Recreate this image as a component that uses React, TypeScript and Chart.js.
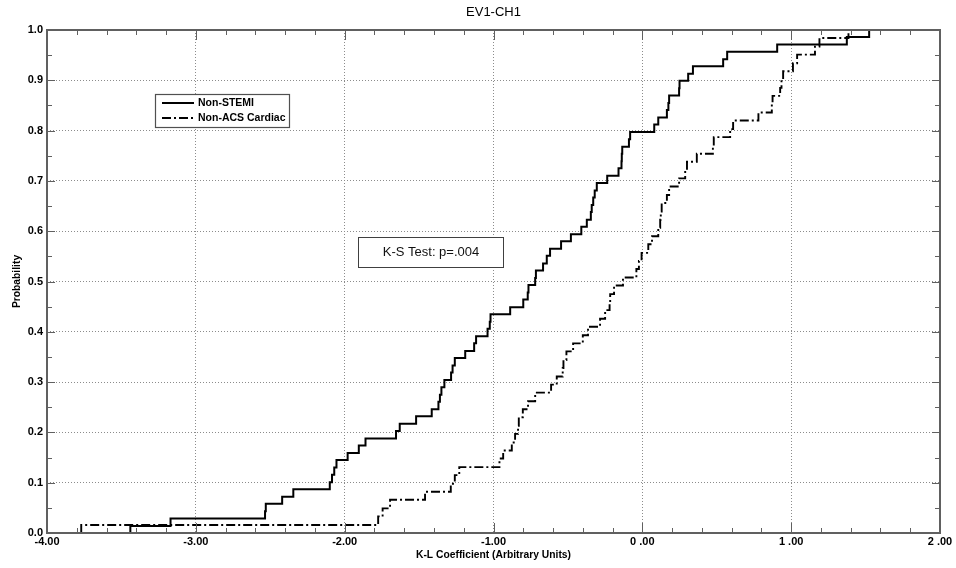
import React, { useEffect, useRef } from 'react';
import { Chart, registerables } from 'chart.js';

Chart.register(...registerables);

const chartTitle = 'EV1-CH1';
const xAxisTitle = 'K-L Coefficient (Arbitrary Units)';
const yAxisTitle = 'Probability';
const seriesNames = ['Non-STEMI', 'Non-ACS Cardiac'];
const ksText = 'K-S Test: p=.004';

const xTickValues = [-4, -3, -2, -1, 0, 1, 2];
const xTickLabels = ['-4.00', '-3.00', '-2.00', '-1.00', '0 .00', '1 .00', '2 .00'];
const yTickValues = [0, 0.1, 0.2, 0.3, 0.4, 0.5, 0.6, 0.7, 0.8, 0.9, 1.0];
const yTickLabels = ['0.0', '0.1', '0.2', '0.3', '0.4', '0.5', '0.6', '0.7', '0.8', '0.9', '1.0'];

const nonStemiX = [
  -3.44, -3.44, -3.17, -2.535, -2.53, -2.42, -2.345, -2.10, -2.085, -2.07,
  -2.055, -1.98, -1.905, -1.86, -1.655, -1.63, -1.52, -1.415, -1.37, -1.36,
  -1.35, -1.33, -1.285, -1.275, -1.26, -1.19, -1.13, -1.117, -1.04, -1.025,
  -1.02, -0.888, -0.80, -0.77, -0.765, -0.72, -0.715, -0.667, -0.642, -0.62,
  -0.546, -0.48, -0.41, -0.373, -0.346, -0.34, -0.33, -0.32, -0.306, -0.236,
  -0.16, -0.14, -0.138, -0.135, -0.09, -0.082, 0.08, 0.107, 0.165, 0.175,
  0.18, 0.247, 0.25, 0.308, 0.34, 0.543, 0.57, 0.906, 1.374, 1.524,
];
const nonStemiY = [
  0, 0.014, 0.029, 0.043, 0.058, 0.072, 0.087, 0.101, 0.116, 0.130,
  0.145, 0.159, 0.174, 0.188, 0.203, 0.217, 0.232, 0.246, 0.261, 0.275,
  0.290, 0.304, 0.319, 0.333, 0.348, 0.362, 0.377, 0.391, 0.406, 0.420,
  0.435, 0.449, 0.464, 0.478, 0.493, 0.507, 0.522, 0.536, 0.551, 0.565,
  0.580, 0.594, 0.609, 0.623, 0.638, 0.652, 0.667, 0.681, 0.696, 0.710,
  0.725, 0.739, 0.754, 0.768, 0.783, 0.797, 0.812, 0.826, 0.841, 0.855,
  0.870, 0.884, 0.899, 0.913, 0.928, 0.942, 0.957, 0.971, 0.986, 1.000,
];

const nonAcsX = [
  -3.77, -3.77, -1.775, -1.745, -1.695, -1.46, -1.287, -1.26, -1.23, -0.96,
  -0.935, -0.877, -0.855, -0.835, -0.83, -0.803, -0.768, -0.72, -0.613, -0.575,
  -0.535, -0.53, -0.51, -0.465, -0.40, -0.365, -0.284, -0.25, -0.22, -0.216,
  -0.19, -0.13, -0.04, -0.023, -0.005, 0.04, 0.065, 0.107, 0.12, 0.124,
  0.13, 0.165, 0.18, 0.247, 0.288, 0.30, 0.366, 0.474, 0.48, 0.59,
  0.61, 0.78, 0.87, 0.875, 0.926, 0.935, 0.946, 1.012, 1.04, 1.16,
  1.19, 1.385,
];
const nonAcsY = [
  0, 0.016, 0.033, 0.049, 0.066, 0.082, 0.098, 0.115, 0.131, 0.148,
  0.164, 0.180, 0.197, 0.213, 0.230, 0.246, 0.262, 0.279, 0.295, 0.311,
  0.328, 0.344, 0.361, 0.377, 0.393, 0.410, 0.426, 0.443, 0.459, 0.475,
  0.492, 0.508, 0.525, 0.541, 0.557, 0.574, 0.590, 0.607, 0.623, 0.639,
  0.656, 0.672, 0.689, 0.705, 0.721, 0.738, 0.754, 0.770, 0.787, 0.803,
  0.820, 0.836, 0.852, 0.869, 0.885, 0.902, 0.918, 0.934, 0.951, 0.967,
  0.984, 1.000,
];

const FONT = "'Liberation Sans', Arial, sans-serif";
const DASH_DOT = [9, 3, 2, 3];
const FRAME = '#606060';

const overlayPlugin = {
  id: 'overlay',
  afterDraw(chart: any) {
    const ctx = chart.ctx as CanvasRenderingContext2D;
    const xs = chart.scales.x;
    const ys = chart.scales.y;
    const { left, right, top, bottom } = chart.chartArea;
    ctx.save();

    // title centred over the plot area
    ctx.fillStyle = '#000';
    ctx.font = `13px ${FONT}`;
    ctx.textAlign = 'center';
    ctx.textBaseline = 'middle';
    ctx.fillText(chartTitle, (left + right) / 2, 12.5);

    // inward tick marks
    ctx.strokeStyle = FRAME;
    ctx.lineWidth = 1;
    ctx.setLineDash([]);
    ctx.beginPath();
    for (let k = 0; k <= 30; k++) {
      const v = xs.min + k * 0.2;
      const px = Math.round(xs.getPixelForValue(v)) + 0.5;
      const len = k % 5 === 0 ? 10 : 5;
      ctx.moveTo(px, bottom);
      ctx.lineTo(px, bottom - len);
      ctx.moveTo(px, top);
      ctx.lineTo(px, top + len);
    }
    for (let k = 0; k <= 20; k++) {
      const v = ys.min + k * 0.05;
      const py = Math.round(ys.getPixelForValue(v)) + 0.5;
      const len = k % 2 === 0 ? 8 : 5;
      ctx.moveTo(left, py);
      ctx.lineTo(left + len, py);
      ctx.moveTo(right, py);
      ctx.lineTo(right - len, py);
    }
    ctx.stroke();

    // frame
    ctx.lineWidth = 2;
    ctx.strokeRect(left, top, right - left, bottom - top);

    // legend box
    const lx = 155.5, ly = 94.5, lw = 134, lh = 33;
    ctx.fillStyle = '#fff';
    ctx.fillRect(lx, ly, lw, lh);
    ctx.lineWidth = 1.2;
    ctx.strokeStyle = '#505050';
    ctx.strokeRect(lx, ly, lw, lh);
    const rows = [103, 118];
    chart.data.datasets.forEach((ds: any, i: number) => {
      ctx.strokeStyle = '#000';
      ctx.lineWidth = 2;
      ctx.setLineDash(ds.borderDash || []);
      ctx.beginPath();
      ctx.moveTo(162, rows[i]);
      ctx.lineTo(194, rows[i]);
      ctx.stroke();
      ctx.setLineDash([]);
      ctx.fillStyle = '#000';
      ctx.font = `bold 10.5px ${FONT}`;
      ctx.textAlign = 'left';
      ctx.textBaseline = 'middle';
      ctx.fillText(ds.label, 198, rows[i] + 0.5);
    });

    // K-S box
    const kx = 358.5, ky = 237.5, kw = 145, kh = 30;
    ctx.fillStyle = '#fff';
    ctx.fillRect(kx, ky, kw, kh);
    ctx.strokeStyle = '#404040';
    ctx.lineWidth = 1;
    ctx.strokeRect(kx, ky, kw, kh);
    ctx.fillStyle = '#111';
    ctx.font = `13px ${FONT}`;
    ctx.textAlign = 'center';
    ctx.textBaseline = 'middle';
    ctx.fillText(ksText, kx + kw / 2, ky + kh / 2);

    ctx.restore();
  },
};

export default function App() {
  const ref = useRef<HTMLCanvasElement | null>(null);
  useEffect(() => {
    if (!ref.current) return;
    const chart = new Chart(ref.current, {
      type: 'line',
      data: {
        datasets: [
          {
            label: seriesNames[0],
            data: nonStemiX.map((x, i) => ({ x, y: nonStemiY[i] })),
            stepped: 'before',
            borderColor: '#000',
            borderWidth: 2,
            pointRadius: 0,
            fill: false,
          },
          {
            label: seriesNames[1],
            data: nonAcsX.map((x, i) => ({ x, y: nonAcsY[i] })),
            stepped: 'before',
            borderColor: '#000',
            borderWidth: 1.9,
            borderDash: DASH_DOT,
            pointRadius: 0,
            fill: false,
          },
        ],
      },
      options: {
        animation: false,
        responsive: false,
        devicePixelRatio: 1,
        layout: { padding: { left: 0, right: 16, top: 30, bottom: 0 } },
        plugins: {
          legend: { display: false },
          tooltip: { enabled: false },
          title: { display: false },
        },
        scales: {
          x: {
            type: 'linear',
            min: -4,
            max: 2,
            afterBuildTicks: (s: any) => {
              s.ticks = xTickValues.map((v) => ({ value: v }));
            },
            afterFit: (s: any) => {
              s.height = 35;
            },
            ticks: {
              callback: (_v: any, i: number) => xTickLabels[i],
              color: '#000',
              font: { family: FONT, size: 11, weight: 'bold' },
              padding: 2,
              maxRotation: 0,
              autoSkip: false,
            },
            grid: { color: '#8c8c8c', lineWidth: 1, drawTicks: false },
            border: { display: false, dash: [1, 2] },
            title: {
              display: true,
              text: xAxisTitle,
              color: '#000',
              font: { family: FONT, size: 10.3, weight: 'bold', lineHeight: 1.2 },
              padding: { top: 0, bottom: 7 },
            },
          },
          y: {
            type: 'linear',
            min: 0,
            max: 1,
            afterBuildTicks: (s: any) => {
              s.ticks = yTickValues.map((v) => ({ value: v }));
            },
            afterFit: (s: any) => {
              s.width = 47;
            },
            ticks: {
              callback: (_v: any, i: number) => yTickLabels[i],
              color: '#000',
              font: { family: FONT, size: 11, weight: 'bold' },
              padding: 4,
              autoSkip: false,
            },
            grid: { color: '#8c8c8c', lineWidth: 1, drawTicks: false },
            border: { display: false, dash: [1, 2] },
            title: {
              display: true,
              text: yAxisTitle,
              color: '#000',
              font: { family: FONT, size: 10.3, weight: 'bold', lineHeight: 1.2 },
              padding: { top: 11, bottom: 0 },
            },
          },
        },
      },
      plugins: [overlayPlugin],
    });
    return () => chart.destroy();
  }, []);

  return (
    <div style={{ position: 'fixed', left: 0, top: 0, width: 956, height: 568, background: '#fff' }}>
      <canvas ref={ref} width={956} height={568} style={{ display: 'block', width: 956, height: 568 }} />
    </div>
  );
}
